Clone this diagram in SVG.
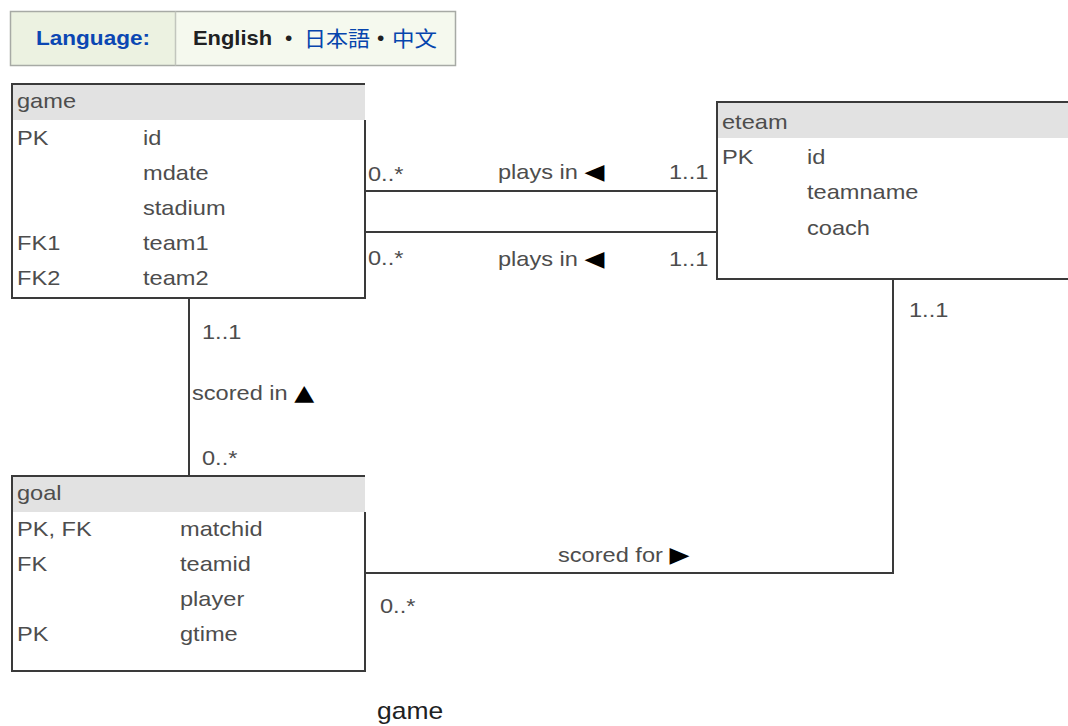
<svg xmlns="http://www.w3.org/2000/svg" width="1068" height="726" viewBox="0 0 1068 726">
<style>
.t{font-family:"Liberation Sans",Arial,sans-serif;font-size:20px;fill:#4d4d4d}
.tri{font-family:"DejaVu Sans",sans-serif;fill:#000;font-size:22px}
.box{fill:none;stroke:#3a3a3a;stroke-width:2}
.hdr{fill:#e2e2e2}
.conn{fill:none;stroke:#3a3a3a;stroke-width:2}
.lang{font-family:"Liberation Sans",Arial,sans-serif;font-size:21px}
</style>
<rect width="1068" height="726" fill="#ffffff"/>
<g id="language">
  <rect x="10.5" y="11.5" width="165" height="54" fill="#ecf2e1"/>
  <rect x="175.5" y="11.5" width="280" height="54" fill="#f5f9ee"/>
  <rect x="10.5" y="11.5" width="445" height="54" fill="none" stroke="#a7aaa5" stroke-width="1.5"/>
  <line x1="175.5" y1="11.5" x2="175.5" y2="65.5" stroke="#c2c6bd" stroke-width="1.5"/>
  <text class="lang" x="36" y="45" font-weight="bold" fill="#0b47b3" textLength="114" lengthAdjust="spacingAndGlyphs">Language:</text>
  <text class="lang" x="193" y="45" font-weight="bold" fill="#202122" textLength="79" lengthAdjust="spacingAndGlyphs">English</text>
  <text class="lang" x="285" y="45" fill="#202122">•</text>
  <text x="304" y="46" font-family="'Noto Sans CJK JP',sans-serif" font-size="21" fill="#0645ad" textLength="66" lengthAdjust="spacingAndGlyphs">日本語</text>
  <text class="lang" x="377" y="45" fill="#202122">•</text>
  <text x="392" y="46" font-family="'Noto Sans CJK SC',sans-serif" font-size="21" fill="#0645ad" textLength="45" lengthAdjust="spacingAndGlyphs">中文</text>
</g>
<g id="connectors">
  <path class="conn" d="M365 191 H717"/>
  <path class="conn" d="M365 232 H717"/>
  <path class="conn" d="M189 298 V476"/>
  <path class="conn" d="M365 573 H893 V279"/>
  <text class="t" transform="translate(368 181) scale(1.18 1)">0..*</text>
  <text class="t" transform="translate(498 179) scale(1.18 1)">plays in <tspan class="tri">◀</tspan></text>
  <text class="t" transform="translate(669 179) scale(1.18 1)">1..1</text>
  <text class="t" transform="translate(368 265) scale(1.18 1)">0..*</text>
  <text class="t" transform="translate(498 266) scale(1.18 1)">plays in <tspan class="tri">◀</tspan></text>
  <text class="t" transform="translate(669 266) scale(1.18 1)">1..1</text>
  <text class="t" transform="translate(202 339) scale(1.18 1)">1..1</text>
  <text class="t" transform="translate(192 400) scale(1.18 1)">scored in <tspan class="tri">▲</tspan></text>
  <text class="t" transform="translate(202 465) scale(1.18 1)">0..*</text>
  <text class="t" transform="translate(558 562) scale(1.18 1)">scored for <tspan class="tri">▶</tspan></text>
  <text class="t" transform="translate(380 613) scale(1.18 1)">0..*</text>
  <text class="t" transform="translate(909 317) scale(1.18 1)">1..1</text>
</g>
<g id="game">
  <rect class="hdr" x="12" y="84" width="353" height="36"/>
  <path class="box" d="M365 120 V298 H12 V84 H365"/>
  <text class="t" transform="translate(17 108) scale(1.18 1)">game</text>
  <text class="t" transform="translate(17 145) scale(1.18 1)">PK</text>
  <text class="t" transform="translate(143 145) scale(1.18 1)">id</text>
  <text class="t" transform="translate(143 180) scale(1.18 1)">mdate</text>
  <text class="t" transform="translate(143 215) scale(1.18 1)">stadium</text>
  <text class="t" transform="translate(17 250) scale(1.18 1)">FK1</text>
  <text class="t" transform="translate(143 250) scale(1.18 1)">team1</text>
  <text class="t" transform="translate(17 285) scale(1.18 1)">FK2</text>
  <text class="t" transform="translate(143 285) scale(1.18 1)">team2</text>
</g>
<g id="eteam">
  <rect class="hdr" x="717" y="102" width="351" height="36"/>
  <path class="box" d="M1070 102 H717 V279 H1070"/>
  <text class="t" transform="translate(722 129) scale(1.18 1)">eteam</text>
  <text class="t" transform="translate(722 164) scale(1.18 1)">PK</text>
  <text class="t" transform="translate(807 164) scale(1.18 1)">id</text>
  <text class="t" transform="translate(807 199) scale(1.18 1)">teamname</text>
  <text class="t" transform="translate(807 235) scale(1.18 1)">coach</text>
</g>
<g id="goal">
  <rect class="hdr" x="12" y="476" width="353" height="36"/>
  <path class="box" d="M365 512 V671 H12 V476 H365"/>
  <text class="t" transform="translate(17 500) scale(1.18 1)">goal</text>
  <text class="t" transform="translate(17 536) scale(1.18 1)">PK, FK</text>
  <text class="t" transform="translate(180 536) scale(1.18 1)">matchid</text>
  <text class="t" transform="translate(17 571) scale(1.18 1)">FK</text>
  <text class="t" transform="translate(180 571) scale(1.18 1)">teamid</text>
  <text class="t" transform="translate(180 606) scale(1.18 1)">player</text>
  <text class="t" transform="translate(17 641) scale(1.18 1)">PK</text>
  <text class="t" transform="translate(180 641) scale(1.18 1)">gtime</text>
</g>
<g id="caption">
  <text transform="translate(377 719) scale(1.15 1)" font-family="'Liberation Sans',Arial,sans-serif" font-size="23" fill="#202122">game</text>
</g>
</svg>
